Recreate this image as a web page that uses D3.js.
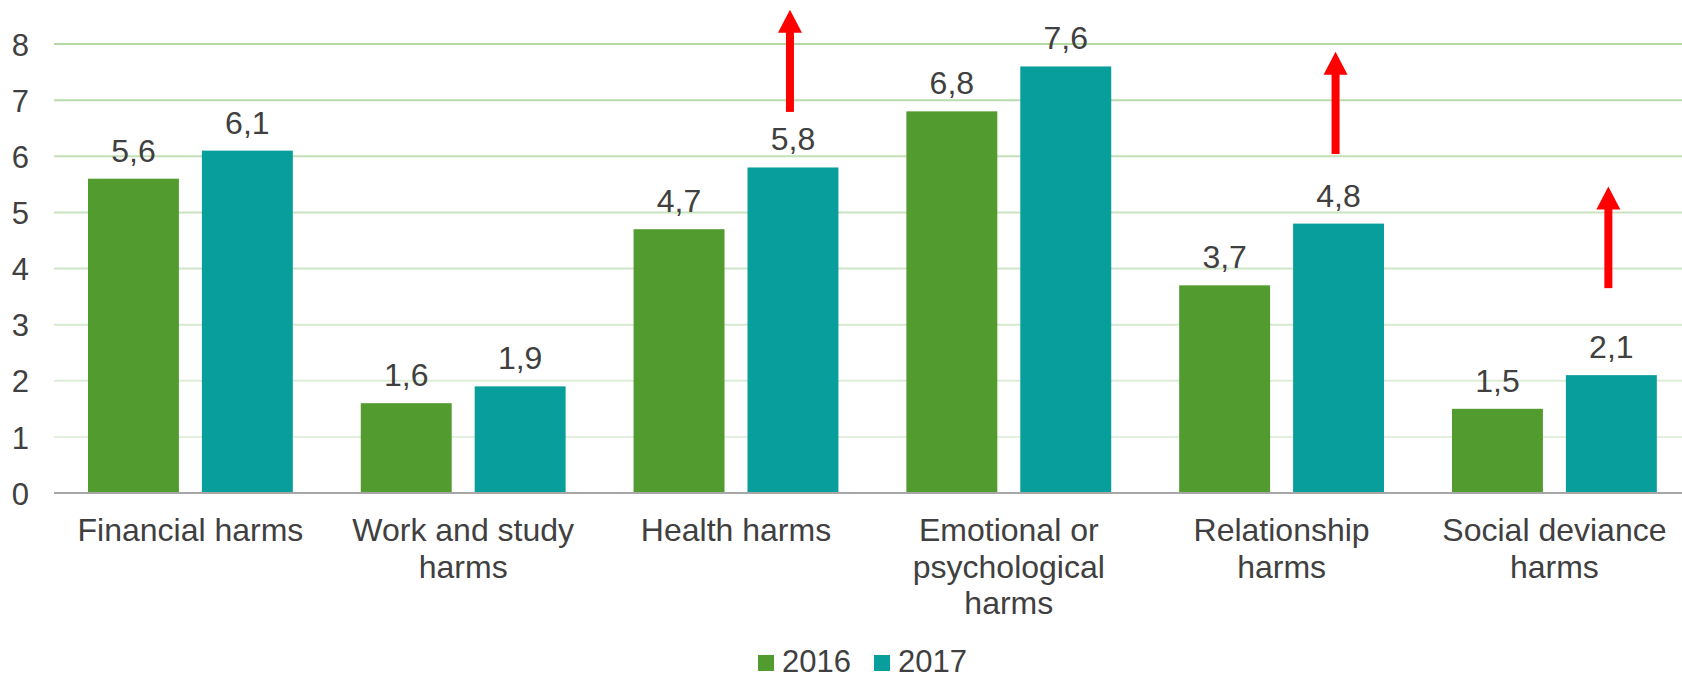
<!DOCTYPE html>
<html>
<head>
<meta charset="utf-8">
<script src="https://cdn.jsdelivr.net/npm/d3@7"></script>
<style>
  html, body { margin: 0; padding: 0; background: #fff; }
  svg { display: block; font-family: "Liberation Sans", Arial, sans-serif; }
</style>
</head>
<body>
<svg id="chart" width="1682" height="678"></svg>
<script>
const categories = ["Financial harms", "Work and study harms", "Health harms", "Emotional or psychological harms", "Relationship harms", "Social deviance harms"];
const categoryLines = [["Financial harms"], ["Work and study", "harms"], ["Health harms"], ["Emotional or", "psychological", "harms"], ["Relationship", "harms"], ["Social deviance", "harms"]];
const seriesNames = ["2016", "2017"];
const values2016 = [5.6, 1.6, 4.7, 6.8, 3.7, 1.5];
const values2017 = [6.1, 1.9, 5.8, 7.6, 4.8, 2.1];
const yTicks = [0, 1, 2, 3, 4, 5, 6, 7, 8];
const arrowCats = ["Health harms", "Relationship harms", "Social deviance harms"];
const arrowFrom = [6.79, 6.04, 3.65];
const arrowTo = [8.61, 7.86, 5.46];

const colors = ["#529B2F", "#089E9C"];
const textColor = "#404040";
const fontSize = 31;

const svg = d3.select("#chart");
const W = 1682;
const plotLeft = 54, bandW = 272.8;
const x0 = d3.scaleBand().domain(categories).range([plotLeft, plotLeft + bandW * 6]).paddingInner(0).paddingOuter(0);
const x1 = d3.scaleBand().domain(seriesNames).range([0, bandW]).paddingInner(23 / 114).paddingOuter(34 / 114);
const y = d3.scaleLinear().domain([0, 8]).range([493, 44]);

const gridColor = d3.scaleLinear().domain([1, 8]).range(["#E3F0DF", "#B2D9A6"]);

// gridlines
svg.append("g").selectAll("line").data(yTicks.filter(d => d > 0)).join("line")
  .attr("x1", plotLeft).attr("x2", W)
  .attr("y1", d => y(d)).attr("y2", d => y(d))
  .attr("stroke", d => gridColor(d)).attr("stroke-width", 2);

// y axis labels
const yAxis = d3.axisLeft(y).tickValues(yTicks).tickSize(0).tickPadding(0).tickFormat(d3.format("d"));
const gy = svg.append("g").attr("transform", `translate(29,0)`).call(yAxis);
gy.select(".domain").remove();
gy.selectAll("text").attr("font-size", fontSize).attr("fill", textColor)
  .attr("font-family", '"Liberation Sans", Arial, sans-serif').attr("dy", "0.36em");

// bars
const seriesData = [values2016, values2017];
seriesNames.forEach((s, si) => {
  const g = svg.append("g");
  g.selectAll("rect").data(seriesData[si]).join("rect")
    .attr("x", (d, i) => x0(categories[i]) + x1(s))
    .attr("width", x1.bandwidth())
    .attr("y", d => y(d))
    .attr("height", d => y(0) - y(d))
    .attr("fill", colors[si]);
  g.selectAll("text").data(seriesData[si]).join("text")
    .attr("x", (d, i) => x0(categories[i]) + x1(s) + x1.bandwidth() / 2)
    .attr("y", d => y(d) - 17)
    .attr("text-anchor", "middle")
    .attr("font-size", 32).attr("fill", textColor)
    .text(d => d3.format(".1f")(d).replace(".", ","));
});

// baseline
svg.append("line").attr("x1", plotLeft).attr("x2", W)
  .attr("y1", y(0)).attr("y2", y(0))
  .attr("stroke", "#A6A6A6").attr("stroke-width", 2);

// category labels
const gx = svg.append("g");
categories.forEach((c, i) => {
  const t = gx.append("text")
    .attr("x", x0(c) + x0.bandwidth() / 2)
    .attr("y", 541)
    .attr("text-anchor", "middle")
    .attr("font-size", 32).attr("fill", textColor);
  categoryLines[i].forEach((line, li) => {
    t.append("tspan").attr("x", x0(c) + x0.bandwidth() / 2)
      .attr("dy", li === 0 ? 0 : 36.5).text(line);
  });
});

// arrows
const headH = 23, headW = 24, shaftW = 8;
arrowCats.forEach((c, i) => {
  const cx = x0(c) + x1("2017") + x1.bandwidth() / 2 - 3;
  const yb = y(arrowFrom[i]), yt = y(arrowTo[i]);
  svg.append("rect").attr("x", cx - shaftW / 2).attr("y", yt + headH - 1)
    .attr("width", shaftW).attr("height", yb - yt - headH + 1).attr("fill", "#FF0000");
  svg.append("path")
    .attr("d", `M${cx},${yt} L${cx + headW / 2},${yt + headH} L${cx - headW / 2},${yt + headH} Z`)
    .attr("fill", "#FF0000");
});

// legend
const legend = svg.append("g");
const legendX = [758, 874];
seriesNames.forEach((s, i) => {
  legend.append("rect").attr("x", legendX[i]).attr("y", 655).attr("width", 16).attr("height", 16).attr("fill", colors[i]);
  legend.append("text").attr("x", legendX[i] + 24).attr("y", 672)
    .attr("font-size", fontSize).attr("fill", textColor).text(s);
});
</script>
</body>
</html>
